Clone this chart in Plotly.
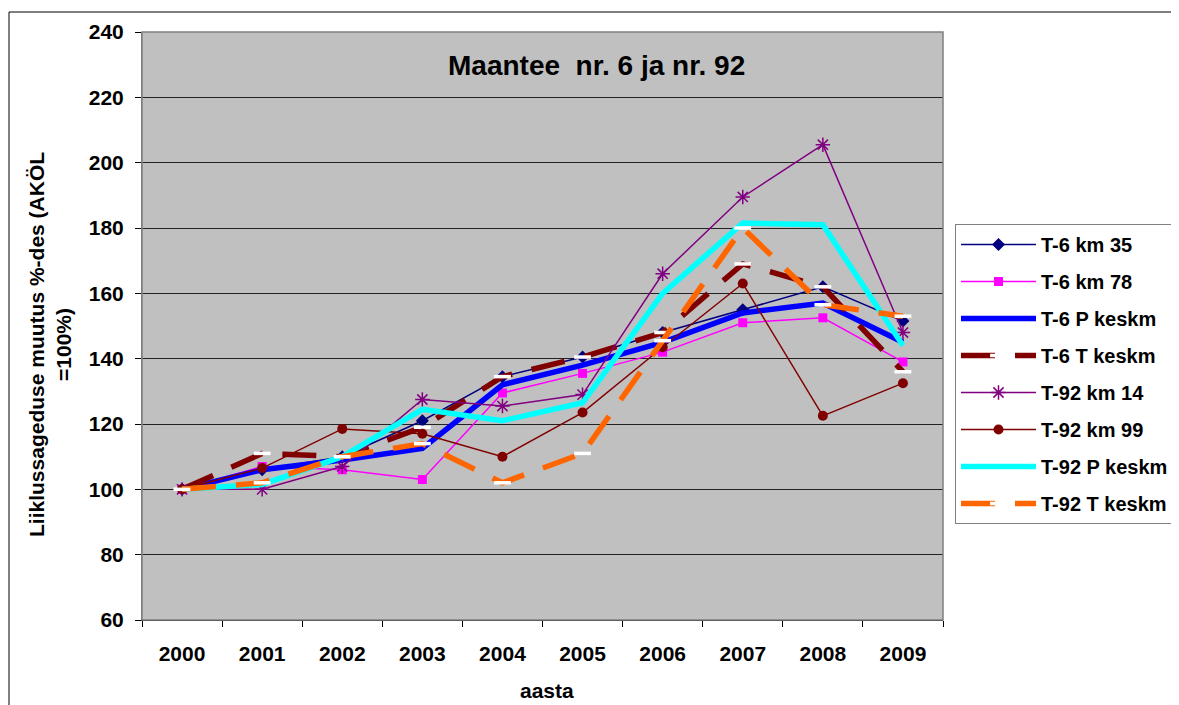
import plotly.graph_objects as go

years = ['2000', '2001', '2002', '2003', '2004', '2005', '2006', '2007', '2008', '2009']

t6_km35 = [100, 106, 110, 121, 134.5, 140.5, 148, 155, 162, 151.5]
t6_km78 = [100, 107, 106, 103, 129.5, 135.5, 142, 151, 152.5, 139]
t6_p_keskm = [100, 106, 109, 112.5, 132, 138, 145, 154, 157, 145]
t6_t_keskm = [100, 111, 110, 119, 134.5, 140.5, 148, 169, 162, 136]
t92_km14 = [100, 100, 107, 127.5, 125.5, 129, 166, 189.5, 205.5, 148]
t92_km99 = [100, 106.5, 118.5, 117, 110, 123.5, 143.5, 163, 122.5, 132.5]
t92_p_keskm = [100, 101.5, 110, 124.5, 121, 126.5, 160, 181.5, 181, 144]
t92_t_keskm = [100, 102, 110, 114, 102, 111, 145.5, 180, 156.5, 153]

FONT = 'Arial, Liberation Sans, sans-serif'
OFF = 8  # page body margin
W, H = 1171, 697
SL, SR, ST, SB = 142, 943, 32, 620  # plot area on screen


def px_x(p):
    return (p - SL) / (SR - SL)


def px_y(p):
    return (SB - p) / (SB - ST)


fig = go.Figure()

thin = [
    ('T-6 km 35', t6_km35, '#000080', 'diamond', 10),
    ('T-6 km 78', t6_km78, '#FF00FF', 'square', 9),
]
for name, vals, col, sym, size in thin:
    fig.add_trace(go.Scatter(x=years, y=vals, name=name, mode='lines+markers',
                             line=dict(color=col, width=1.5),
                             marker=dict(symbol=sym, size=size, color=col),
                             legendgroup=name))

fig.add_trace(go.Scatter(x=years, y=t6_p_keskm, name='T-6 P keskm', mode='lines',
                         line=dict(color='#0000FF', width=5.5), legendgroup='t6p'))
fig.add_trace(go.Scatter(x=years, y=t6_t_keskm, name='T-6 T keskm', mode='lines+markers',
                         line=dict(color='#800000', width=5.5, dash='34px,20px'),
                         marker=dict(symbol='line-ew', size=12,
                                     line=dict(color='white', width=3.5)),
                         legendgroup='t6t'))
fig.add_trace(go.Scatter(x=years, y=t92_km14, name='T-92 km 14', mode='lines+markers',
                         line=dict(color='#800080', width=1.5),
                         marker=dict(symbol='asterisk-open', size=12,
                                     line=dict(color='#800080', width=1.5)),
                         legendgroup='t92a'))
fig.add_trace(go.Scatter(x=years, y=t92_km99, name='T-92 km 99', mode='lines+markers',
                         line=dict(color='#800000', width=1.5),
                         marker=dict(symbol='circle', size=10, color='#800000'),
                         legendgroup='t92b'))
fig.add_trace(go.Scatter(x=years, y=t92_p_keskm, name='T-92 P keskm', mode='lines',
                         line=dict(color='#00FFFF', width=5.5), legendgroup='t92p'))
fig.add_trace(go.Scatter(x=years, y=t92_t_keskm, name='T-92 T keskm', mode='lines+markers',
                         line=dict(color='#FF6600', width=5.5, dash='34px,20px'),
                         marker=dict(symbol='line-ew', size=12,
                                     line=dict(color='white', width=3.5)),
                         legendgroup='t92t'))

fig.update_layout(
    width=W, height=H,
    margin=dict(l=SL - OFF, r=W - (SR - OFF), t=ST - OFF, b=H - (SB - OFF),
                autoexpand=False),
    paper_bgcolor='white',
    plot_bgcolor='#C0C0C0',
    font=dict(family=FONT, color='black'),
    showlegend=True,
    legend=dict(x=px_x(955), y=px_y(224), xanchor='left', yanchor='top',
                bgcolor='white', bordercolor='#808080', borderwidth=1,
                font=dict(size=20, family=FONT, weight='bold'),
                traceorder='grouped', tracegroupgap=8, itemwidth=75),
    xaxis=dict(type='category', tickson='boundaries', ticks='outside', ticklen=6,
               tickcolor='black', showline=True, linecolor='black', linewidth=1,
               showgrid=False, tickfont=dict(size=21, weight='bold'),
               range=[-0.5, 9.5], ticklabelstandoff=15),
    yaxis=dict(range=[60, 240], dtick=20, ticks='outside', ticklen=6, tickcolor='black',
               showline=True, linecolor='#808080', linewidth=1,
               showgrid=True, gridcolor='#222222', gridwidth=1,
               tickfont=dict(size=21, weight='bold'), zeroline=False,
               ticklabelstandoff=7),
)

# plot area border (top and right)
fig.add_shape(type='rect', xref='paper', yref='paper', x0=0, y0=0, x1=1, y1=1,
              line=dict(color='#808080', width=1.5), layer='above')
# outer chart border (cropped at right/bottom)
fig.add_shape(type='rect', xref='paper', yref='paper', x0=px_x(9), y0=px_y(720),
              x1=px_x(1200), y1=px_y(12), line=dict(color='black', width=1))

fig.add_annotation(text='Maantee&nbsp; nr. 6 ja nr. 92', xref='paper', yref='paper',
                   x=px_x(596), y=px_y(65), xanchor='center', yanchor='middle',
                   showarrow=False, font=dict(size=28, weight='bold'))
fig.add_annotation(text='Liiklussageduse muutus %-des (AKÖL<br>=100%)',
                   xref='paper', yref='paper', x=px_x(50), y=px_y(345),
                   xanchor='center', yanchor='middle',
                   textangle=-90, showarrow=False,
                   font=dict(size=21, weight='bold'))
fig.add_annotation(text='aasta', xref='paper', yref='paper',
                   x=px_x(547), y=px_y(690), xanchor='center', yanchor='middle',
                   showarrow=False, font=dict(size=21, weight='bold'))

fig.write_html('out.html')
